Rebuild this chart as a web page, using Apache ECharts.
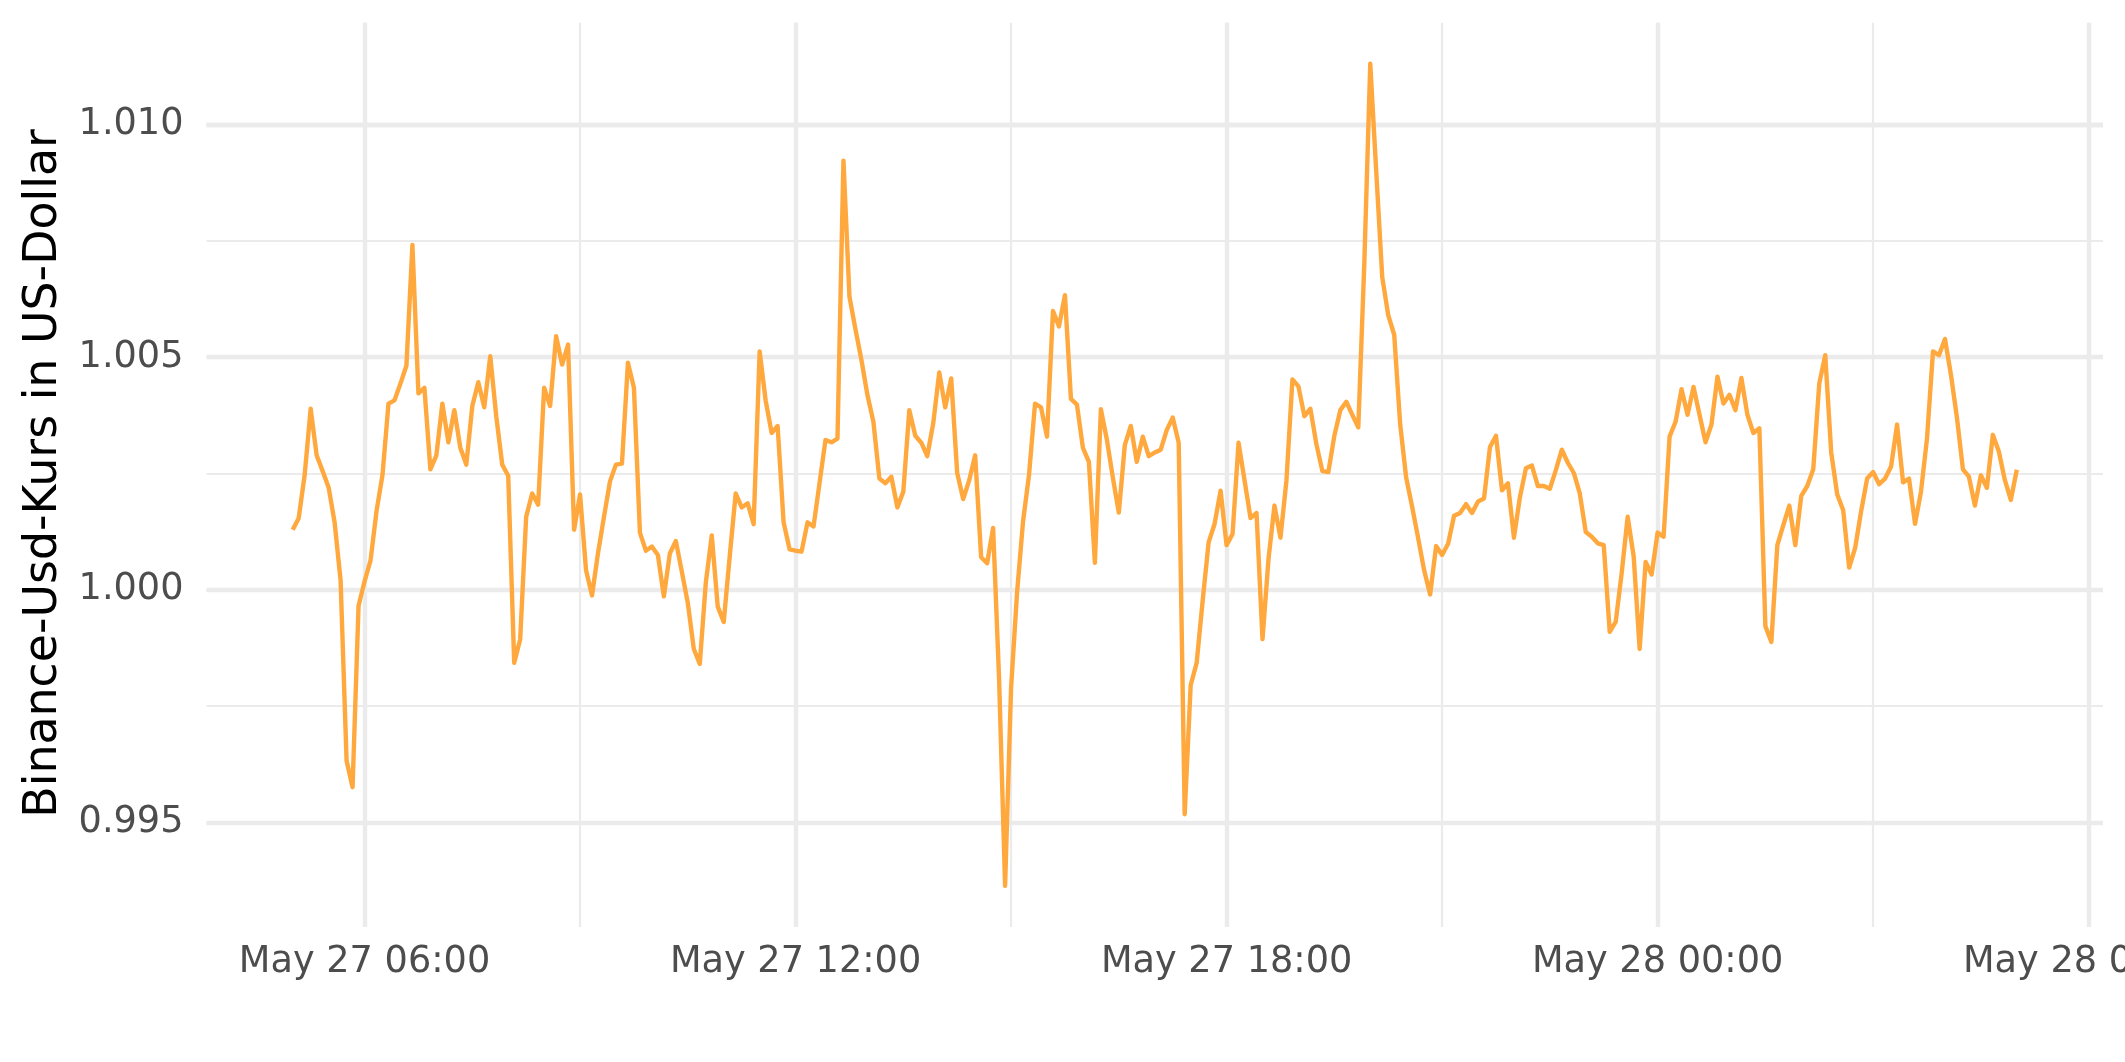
<!DOCTYPE html>
<html>
<head>
<meta charset="utf-8">
<script src="https://cdn.jsdelivr.net/npm/echarts@6/dist/echarts.min.js"></script>
<style>
html,body{margin:0;padding:0;background:#ffffff;}
#chart{width:2125px;height:1062px;}
</style>
</head>
<body>
<div id="chart"></div>
<script>
// ---- data ----
const startHour = 5;          // first sample: May 27 05:00
const stepMinutes = 5;        // 5-minute samples
const rate = [
1.00129,1.00154,1.00247,1.00389,1.00289,1.00255,1.00220,1.00145,1.00020,0.99633,
0.99576,0.99966,1.00018,1.00063,1.00169,1.00247,1.00400,1.00407,1.00443,1.00482,
1.00741,1.00422,1.00434,1.00259,1.00289,1.00400,1.00317,1.00386,1.00305,1.00269,
1.00395,1.00446,1.00392,1.00502,1.00373,1.00269,1.00245,0.99843,0.99894,1.00157,
1.00207,1.00183,1.00434,1.00395,1.00545,1.00484,1.00527,1.00129,1.00205,1.00042,
0.99988,1.00079,1.00157,1.00233,1.00269,1.00271,1.00488,1.00434,1.00123,1.00084,
1.00093,1.00075,0.99986,1.00078,1.00105,1.00039,0.99972,0.99873,0.99841,1.00014,
1.00117,0.99964,0.99931,1.00072,1.00207,1.00177,1.00186,1.00141,1.00512,1.00407,
1.00337,1.00352,1.00145,1.00087,1.00084,1.00082,1.00145,1.00136,1.00229,1.00322,
1.00317,1.00325,1.00922,1.00630,1.00560,1.00494,1.00419,1.00361,1.00239,1.00229,
1.00243,1.00177,1.00211,1.00386,1.00331,1.00316,1.00287,1.00358,1.00467,1.00392,
1.00454,1.00251,1.00195,1.00235,1.00289,1.00070,1.00057,1.00133,0.99807,0.99364,
0.99789,0.99994,1.00147,1.00247,1.00400,1.00392,1.00329,1.00599,1.00566,1.00633,
1.00410,1.00398,1.00305,1.00275,1.00058,1.00388,1.00323,1.00241,1.00166,1.00311,
1.00352,1.00275,1.00329,1.00287,1.00295,1.00301,1.00343,1.00370,1.00316,0.99518,
0.99795,0.99843,0.99976,1.00102,1.00142,1.00213,1.00096,1.00120,1.00316,1.00235,
1.00154,1.00165,0.99894,1.00066,1.00181,1.00112,1.00235,1.00452,1.00437,1.00373,
1.00389,1.00313,1.00255,1.00253,1.00331,1.00386,1.00404,1.00376,1.00349,1.00699,
1.01130,1.00898,1.00672,1.00590,1.00548,1.00355,1.00241,1.00178,1.00111,1.00042,
0.99990,1.00094,1.00075,1.00099,1.00159,1.00165,1.00184,1.00165,1.00190,1.00196,
1.00307,1.00331,1.00214,1.00229,1.00112,1.00199,1.00261,1.00267,1.00223,1.00223,
1.00217,1.00257,1.00301,1.00273,1.00251,1.00207,1.00124,1.00114,1.00100,1.00096,
0.99910,0.99931,1.00036,1.00157,1.00072,0.99873,1.00060,1.00033,1.00123,1.00114,
1.00329,1.00361,1.00431,1.00376,1.00436,1.00376,1.00317,1.00355,1.00458,1.00400,
1.00419,1.00386,1.00455,1.00376,1.00337,1.00347,0.99922,0.99888,1.00096,1.00139,
1.00181,1.00096,1.00202,1.00223,1.00259,1.00443,1.00504,1.00295,1.00205,1.00171,
1.00048,1.00090,1.00169,1.00239,1.00253,1.00227,1.00239,1.00265,1.00355,1.00231,
1.00239,1.00142,1.00211,1.00325,1.00512,1.00504,1.00539,1.00462,1.00370,1.00259,
1.00243,1.00181,1.00246,1.00219,1.00333,1.00297,1.00236,1.00193,1.00258
];
const xTickHours  = [6, 12, 18, 24, 30];   // hours since May 27 00:00
const xTickLabels = ['May 27 06:00', 'May 27 12:00', 'May 27 18:00', 'May 28 00:00', 'May 28 06:00'];
const xMinorStep = 3;
const yTicks = [0.995, 1.000, 1.005, 1.010];
const yMinorStep = 0.0025;
const yTitle = 'Binance-Usd-Kurs in US-Dollar';

// ---- layout ----
const FONT = 'DejaVu Sans';
const GRID_COLOR = '#EBEBEB';
const panel = {left: 206.5, right: 2103, top: 22.7, bottom: 927};

const times = rate.map((v, i) => startHour + i * stepMinutes / 60);
const tSpan = times[times.length - 1] - times[0];
const xMin = times[0] - 0.05 * tSpan, xMax = times[times.length - 1] + 0.05 * tSpan;
const vMin = Math.min(...rate), vMax = Math.max(...rate);
const yMin = vMin - 0.05 * (vMax - vMin), yMax = vMax + 0.05 * (vMax - vMin);
const pw = panel.right - panel.left, ph = panel.bottom - panel.top;
const px = h => panel.left + (h - xMin) / (xMax - xMin) * pw;
const py = v => panel.bottom - (v - yMin) / (yMax - yMin) * ph;

const xT0 = xTickHours[0], xT1 = xTickHours[xTickHours.length - 1];
const yT0 = yTicks[0], yT1 = yTicks[yTicks.length - 1];
const gX = {left: px(xT0), top: panel.top, width: px(xT1) - px(xT0), height: ph, outerBoundsMode: 'none'};
const gY = {left: panel.left, top: py(yT1), width: pw, height: py(yT0) - py(yT1), outerBoundsMode: 'none'};

const hidden = (gi) => ({gridIndex: gi, type: 'value', show: false, min: 0, max: 1});
const labelStyle = {color: '#4D4D4D', fontSize: 36.67, fontFamily: FONT};

const option = {
  animation: false,
  backgroundColor: '#ffffff',
  grid: [
    {left: panel.left, top: panel.top, width: pw, height: ph, outerBoundsMode: 'none'}, // data
    Object.assign({}, gX), // x minor
    Object.assign({}, gX), // x major
    Object.assign({}, gY), // y minor
    Object.assign({}, gY)  // y major
  ],
  xAxis: [
    {gridIndex: 0, type: 'value', show: false, min: xMin, max: xMax},
    {gridIndex: 1, type: 'value', min: xT0, max: xT1, interval: xMinorStep,
     axisLine: {show: false}, axisTick: {show: false}, axisLabel: {show: false},
     splitLine: {show: true, lineStyle: {color: GRID_COLOR, width: 2.2}}},
    {gridIndex: 2, type: 'value', min: xT0, max: xT1, interval: xTickHours[1] - xTickHours[0],
     axisLine: {show: false}, axisTick: {show: false},
     axisLabel: Object.assign({show: true, margin: 17,
       formatter: v => { const i = xTickHours.indexOf(Math.round(v)); return i >= 0 ? xTickLabels[i] : ''; }
     }, labelStyle),
     splitLine: {show: true, lineStyle: {color: GRID_COLOR, width: 4.4}}},
    hidden(3),
    hidden(4)
  ],
  yAxis: [
    {gridIndex: 0, type: 'value', show: false, min: yMin, max: yMax},
    hidden(1),
    hidden(2),
    {gridIndex: 3, type: 'value', min: yT0, max: yT1, interval: yMinorStep,
     axisLine: {show: false}, axisTick: {show: false}, axisLabel: {show: false},
     splitLine: {show: true, lineStyle: {color: GRID_COLOR, width: 2.2}}},
    {gridIndex: 4, type: 'value', min: yT0, max: yT1, interval: yTicks[1] - yTicks[0],
     axisLine: {show: false}, axisTick: {show: false},
     axisLabel: Object.assign({show: true, margin: 23, formatter: v => v.toFixed(3)}, labelStyle),
     splitLine: {show: true, lineStyle: {color: GRID_COLOR, width: 4.4}},
     name: yTitle, nameLocation: 'middle', nameGap: 139,
     nameTextStyle: {color: '#000000', fontSize: 45.83, fontFamily: FONT}}
  ],
  series: [{
    type: 'line',
    xAxisIndex: 0, yAxisIndex: 0,
    data: times.map((t, i) => [t, rate[i]]),
    showSymbol: false, symbol: 'none', silent: true,
    lineStyle: {color: '#FFA83D', width: 4.4, join: 'round', cap: 'butt'},
    z: 5
  }]
};

const chart = echarts.init(document.getElementById('chart'), null, {renderer: 'canvas'});
chart.setOption(option);
</script>
</body>
</html>
